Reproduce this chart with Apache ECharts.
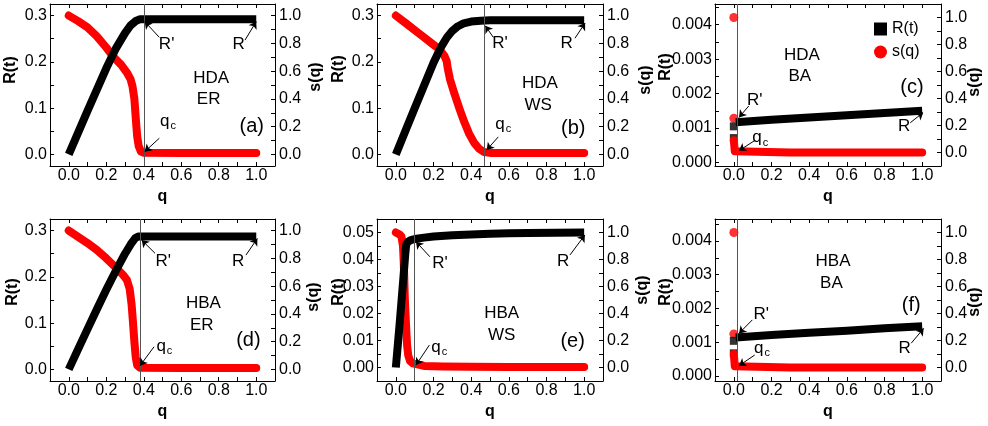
<!DOCTYPE html>
<html>
<head>
<meta charset="utf-8">
<script src="https://cdn.jsdelivr.net/npm/echarts@6/dist/echarts.min.js"></script>
<style>
  html, body { margin: 0; padding: 0; background: #fff; }
  #chart { width: 988px; height: 426px; }
</style>
</head>
<body>
<div id="chart"></div>
<script>
const FONT = '"Liberation Sans", Arial, sans-serif';

// tick labels
const qTicks = [0, 0.2, 0.4, 0.6, 0.8, 1.0];
const sTicks = [0, 0.2, 0.4, 0.6, 0.8, 1.0];
const rTicksER = [0, 0.1, 0.2, 0.3];
const rTicksWS = [0, 0.01, 0.02, 0.03, 0.04, 0.05];
const rTicksBA = [0, 0.001, 0.002, 0.003, 0.004];

// (a) HDA / ER
const rA = [[0, 0], [0.05, 0.047], [0.1, 0.094], [0.15, 0.14], [0.2, 0.186], [0.25, 0.228], [0.3, 0.262],
  [0.33, 0.279], [0.36, 0.289], [0.38, 0.292], [0.5, 0.292], [0.7, 0.292], [1.0, 0.292]];
const sA = [[0, 1.0], [0.05, 0.96], [0.1, 0.915], [0.15, 0.85], [0.2, 0.77], [0.24, 0.7], [0.28, 0.645],
  [0.31, 0.59], [0.33, 0.54], [0.34, 0.49], [0.35, 0.4], [0.358, 0.25], [0.365, 0.13], [0.373, 0.06],
  [0.385, 0.02], [0.4, 0.012], [0.6, 0.01], [0.8, 0.01], [1.0, 0.01]];
const qcA = 0.4;

// (b) HDA / WS
const rB = [[0, 0], [0.05, 0.05], [0.1, 0.1], [0.15, 0.149], [0.2, 0.198], [0.24, 0.232], [0.27, 0.252],
  [0.3, 0.267], [0.33, 0.277], [0.36, 0.283], [0.4, 0.287], [0.45, 0.289], [0.5, 0.29], [0.7, 0.29], [1.0, 0.29]];
const sB = [[0, 1.0], [0.05, 0.948], [0.1, 0.895], [0.15, 0.843], [0.2, 0.79], [0.232, 0.757], [0.258, 0.709],
  [0.27, 0.672], [0.275, 0.624], [0.288, 0.539], [0.31, 0.442], [0.337, 0.333], [0.363, 0.235], [0.389, 0.15],
  [0.416, 0.083], [0.442, 0.041], [0.468, 0.017], [0.5, 0.011], [0.7, 0.01], [1.0, 0.01]];
const qcB = 0.47;

// (c) HDA / BA
const rC = [[0.01, 0.00117], [0.2, 0.00124], [0.4, 0.00131], [0.6, 0.00137], [0.8, 0.00144], [1.0, 0.0015]];
const rCDots = [[0, 0.00071], [0, 0.00105]];
const sC = [[0, 0.09], [0.005, 0.01], [0.3, 0.0], [0.6, 0.0], [1.0, 0.0]];
const sCDots = [[0, 1.0], [0, 0.254]];
const qcC = 0.02;

// (d) HBA / ER
const rD = [[0, 0], [0.05, 0.044], [0.1, 0.087], [0.15, 0.13], [0.2, 0.172], [0.25, 0.212], [0.3, 0.25],
  [0.33, 0.27], [0.355, 0.284], [0.37, 0.287], [0.5, 0.287], [0.7, 0.287], [1.0, 0.287]];
const sD = [[0, 1.0], [0.05, 0.955], [0.1, 0.91], [0.15, 0.86], [0.2, 0.8], [0.25, 0.735], [0.29, 0.68],
  [0.31, 0.645], [0.325, 0.58], [0.335, 0.47], [0.342, 0.35], [0.35, 0.2], [0.357, 0.09], [0.365, 0.03],
  [0.38, 0.012], [0.6, 0.01], [1.0, 0.01]];
const qcD = 0.375;

// (e) HBA / WS
const rE = [[0, 0], [0.02, 0.016], [0.04, 0.033], [0.05, 0.042], [0.055, 0.0455], [0.065, 0.0466], [0.08, 0.0472],
  [0.1, 0.0476], [0.15, 0.0481], [0.2, 0.0485], [0.3, 0.049], [0.4, 0.0493], [0.5, 0.0495], [0.6, 0.0497],
  [0.7, 0.0498], [0.85, 0.0499], [1.0, 0.05]];
const sE = [[0, 1.0], [0.02, 0.985], [0.03, 0.97], [0.038, 0.9], [0.042, 0.78], [0.045, 0.65], [0.048, 0.5],
  [0.052, 0.38], [0.056, 0.26], [0.06, 0.16], [0.066, 0.09], [0.075, 0.05], [0.09, 0.03], [0.1, 0.022],
  [0.15, 0.012], [0.25, 0.008], [0.4, 0.005], [0.6, 0.003], [1.0, 0.003]];
const qcE = 0.1;

// (f) HBA / BA
const rF = [[0.01, 0.00114], [0.2, 0.00121], [0.4, 0.00128], [0.6, 0.00134], [0.8, 0.00141], [1.0, 0.00147]];
const rFDots = [[0, 0.00067], [0, 0.00104]];
const sF = [[0, 0.1], [0.005, 0.01], [0.3, 0.0], [0.6, 0.0], [1.0, 0.0]];
const sFDots = [[0, 1.0], [0, 0.249]];
const qcF = 0.02;

// major + minor tick positions (minor halfway)
function tickSet(ticks, min, max) {
  const h = (ticks[1] - ticks[0]) / 2;
  const out = [];
  for (let k = Math.ceil((min - ticks[0]) / h - 1e-9); ticks[0] + k * h <= max + 1e-12; k++) {
    out.push(+(ticks[0] + k * h).toFixed(8));
  }
  return out;
}

// rName / sName: pixel centre of the rotated axis titles
const panels = [
  { left: 50, top: 4, width: 225, r: rA, s: sA, qc: qcA, rRange: [-0.025, 0.325], rTicks: rTicksER, rDec: 1,
    sRange: [-1 / 12, 13 / 12], rName: [11, 70], sName: [316, 77],
    texts: [["R'", 0.522, 0.2375], ['R', 0.906, 0.2375], ['qc', 0.529, 0.072], ['HDA', 0.76, 0.1645],
      ['ER', 0.746, 0.1183], ['(a)', 0.976, 0.0593]],
    arrows: [[[0.483, 0.253], [0.405, 0.287]], [[0.94, 0.247], [1.0, 0.287]], [[0.483, 0.035], [0.405, 0.006]]] },
  { left: 377, top: 4, width: 226, r: rB, s: sB, qc: qcB, rRange: [-0.025, 0.325], rTicks: rTicksER, rDec: 1,
    sRange: [-1 / 12, 13 / 12], rName: [339, 69], sName: [646, 80],
    texts: [["R'", 0.553, 0.24], ['R', 0.907, 0.24], ['qc', 0.57, 0.066], ['HDA', 0.765, 0.1537],
      ['WS', 0.756, 0.107], ['(b)', 0.942, 0.0564]],
    arrows: [[[0.5175, 0.253], [0.475, 0.278]], [[0.951, 0.251], [1.005, 0.284]], [[0.544, 0.038], [0.4825, 0.0096]]] },
  { left: 715, top: 4, width: 226, r: rC, rDots: rCDots, s: sC, sDots: sCDots, qc: qcC, rRange: [-0.0001, 0.0046],
    rTicks: rTicksBA, rDec: 3, sRange: [-0.1, 1.1], rName: [666, 67], sName: [975, 82],
    texts: [["R'", 0.111, 0.00181], ['R', 0.904, 0.00104], ['qc', 0.1406, 0.000727], ['HDA', 0.362, 0.00312],
      ['BA', 0.35, 0.00251], ['(c)', 0.946, 0.00218]],
    arrows: [[[0.079, 0.00164], [0.0274, 0.00131]], [[0.937, 0.001156], [1.005, 0.00145]],
      [[0.107, 0.000625], [0.0274, 0.000344]]] },
  { left: 50, top: 219, width: 225, r: rD, s: sD, qc: qcD, rRange: [-0.025, 0.325], rTicks: rTicksER, rDec: 1,
    sRange: [-1 / 12, 13 / 12], rName: [13, 292], sName: [314, 297],
    texts: [["R'", 0.504, 0.2328], ['R', 0.904, 0.2328], ['qc', 0.51, 0.05], ['HBA', 0.718, 0.143],
      ['ER', 0.709, 0.096], ['(d)', 0.958, 0.0636]],
    arrows: [[[0.46, 0.251], [0.389, 0.2796]], [[0.945, 0.247], [1.006, 0.283]], [[0.455, 0.049], [0.38, 0.008]]] },
  { left: 377, top: 219, width: 226, r: rE, s: sE, qc: qcE, rRange: [-0.005, 0.055], rTicks: rTicksWS, rDec: 2,
    sRange: [-0.1, 1.1], rName: [339, 292], sName: [643, 290],
    texts: [["R'", 0.2345, 0.0386], ['R', 0.889, 0.0392], ['qc', 0.231, 0.0076], ['HBA', 0.562, 0.0201],
      ['WS', 0.562, 0.012], ['(e)', 0.939, 0.00956]],
    arrows: [[[0.181, 0.041], [0.107, 0.0466]], [[0.925, 0.0417], [1.004, 0.0491]], [[0.178, 0.0083], [0.107, 0.0009]]] },
  { left: 715, top: 219, width: 226, r: rF, rDots: rFDots, s: sF, sDots: sFDots, qc: qcF, rRange: [-0.00015, 0.00465],
    rTicks: rTicksBA, rDec: 3, sRange: [-0.1, 1.1], rName: [666, 292], sName: [975, 302],
    texts: [["R'", 0.146, 0.00183], ['R', 0.907, 0.00082], ['qc', 0.1496, 0.00083], ['HBA', 0.5265, 0.00339],
      ['BA', 0.518, 0.00274], ['(f)', 0.942, 0.0021]],
    arrows: [[[0.098, 0.00166], [0.0274, 0.00126]], [[0.942, 0.00097], [1.008, 0.00141]],
      [[0.111, 0.00062], [0.0274, 0.000303]]] }
];

const grid = [], xAxis = [], yAxis = [], series = [];
const axisLine = { show: true, onZero: false, lineStyle: { color: '#000', width: 1 } };
const tick = (vals) => ({ show: true, inside: true, length: 4, customValues: vals, lineStyle: { color: '#000', width: 1 } });
const label = (vals, dec, margin) => ({
  customValues: vals, formatter: (v) => v.toFixed(dec), margin: margin,
  color: '#000', fontSize: 16, fontFamily: FONT
});

panels.forEach((p, i) => {
  grid.push({ left: p.left, top: p.top, width: p.width, height: 162 });
  xAxis.push({
    type: 'value', gridIndex: i, position: 'bottom', min: -0.1, max: 1.1,
    name: 'q', nameLocation: 'middle', nameGap: 23,
    nameTextStyle: { color: '#000', fontSize: 16, fontWeight: 'bold', fontFamily: FONT },
    axisLine: axisLine, axisTick: tick(tickSet(qTicks, -0.1, 1.1)),
    axisLabel: label(qTicks, 1, 2), splitLine: { show: false }
  });
  xAxis.push({
    type: 'value', gridIndex: i, position: 'top', min: -0.1, max: 1.1,
    axisLine: axisLine, axisTick: tick(tickSet(qTicks, -0.1, 1.1)),
    axisLabel: { show: false }, splitLine: { show: false }
  });
  yAxis.push({
    type: 'value', gridIndex: i, position: 'left', min: p.rRange[0], max: p.rRange[1],
    axisLine: axisLine, axisTick: tick(tickSet(p.rTicks, p.rRange[0], p.rRange[1])),
    axisLabel: label(p.rTicks, p.rDec, 3), splitLine: { show: false }
  });
  yAxis.push({
    type: 'value', gridIndex: i, position: 'right', min: p.sRange[0], max: p.sRange[1],
    axisLine: axisLine, axisTick: tick(tickSet(sTicks, p.sRange[0], p.sRange[1])),
    axisLabel: label(sTicks, 1, 4), splitLine: { show: false }
  });

  series.push({
    type: 'line', name: 's(q)', xAxisIndex: 2 * i, yAxisIndex: 2 * i + 1, data: p.s,
    symbol: 'none', showSymbol: false, animation: false, silent: true,
    itemStyle: { color: '#ff0000' },
    lineStyle: { color: '#ff0000', width: 8, cap: 'round', join: 'round' },
    markLine: {
      silent: true, animation: false, symbol: 'none', label: { show: false },
      lineStyle: { color: '#555', width: 1, type: 'solid' },
      data: [{ xAxis: p.qc }]
    }
  });
  if (p.sDots) {
    series.push({
      type: 'scatter', name: 's(q)', xAxisIndex: 2 * i, yAxisIndex: 2 * i + 1, data: p.sDots,
      symbol: 'circle', symbolSize: 9, itemStyle: { color: '#ff0000' }, animation: false, silent: true
    });
  }
  if (p.rDots) {
    series.push({
      type: 'scatter', name: 'R(t)', xAxisIndex: 2 * i, yAxisIndex: 2 * i, data: p.rDots,
      symbol: 'rect', symbolSize: 8, itemStyle: { color: '#000' }, animation: false, silent: true
    });
  }
  p.rIdx = series.length;
  series.push({
    type: 'line', name: 'R(t)', xAxisIndex: 2 * i, yAxisIndex: 2 * i, data: p.r,
    symbol: 'none', showSymbol: false, animation: false, silent: true,
    itemStyle: { color: '#000' },
    lineStyle: { color: '#000', width: 8, cap: 'butt', join: 'round' },
    markLine: {
      silent: true, animation: false, symbol: ['none', 'arrow'], symbolSize: 7, label: { show: false },
      lineStyle: { color: '#000', width: 1, type: 'solid' },
      data: p.arrows.map((a) => [{ coord: a[0] }, { coord: a[1] }])
    }
  });
});

const chart = echarts.init(document.getElementById('chart'));
chart.setOption({
  backgroundColor: '#fff',
  animation: false,
  legend: {
    left: 869, top: 16, orient: 'vertical', itemWidth: 13, itemHeight: 13, itemGap: 7,
    selectedMode: false,
    textStyle: { color: '#000', fontSize: 16, fontFamily: FONT },
    data: [{ name: 'R(t)', icon: 'rect' }, { name: 's(q)', icon: 'circle' }]
  },
  grid: grid,
  xAxis: xAxis,
  yAxis: yAxis,
  series: series
});

// axis titles (rotated) and annotation texts
const graphic = [];
const titleFont = 'bold 16px ' + FONT;
panels.forEach((p) => {
  [['R(t)', p.rName], ['s(q)', p.sName]].forEach(([txt, pos]) => {
    graphic.push({
      type: 'text', x: pos[0], y: pos[1], rotation: Math.PI / 2, z: 100, silent: true,
      style: { text: txt, font: titleFont, fill: '#000', align: 'center', verticalAlign: 'middle' }
    });
  });
  p.texts.forEach(([txt, q, v]) => {
    const pt = chart.convertToPixel({ seriesIndex: p.rIdx }, [q, v]);
    const style = { fill: '#000', align: 'center', verticalAlign: 'middle' };
    if (txt === 'qc') {
      style.text = '{q|q}{c|c}';
      style.rich = {
        q: { fontSize: 17, fontFamily: FONT, fill: '#000' },
        c: { fontSize: 11, fontFamily: FONT, fill: '#000', padding: [10, 0, 0, 1] }
      };
    } else {
      style.text = txt;
      style.font = (txt.charAt(0) === '(' ? '20px ' : '17px ') + FONT;
    }
    graphic.push({ type: 'text', x: pt[0], y: pt[1], z: 100, silent: true, style: style });
  });
});
chart.setOption({ graphic: graphic });
</script>
</body>
</html>
